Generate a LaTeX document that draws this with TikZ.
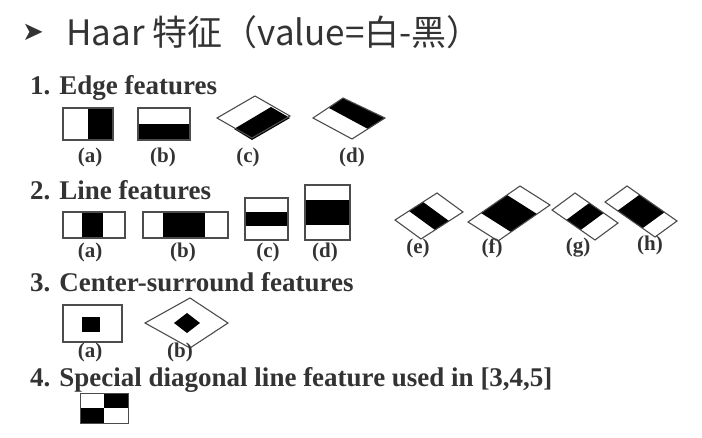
\documentclass[tikz,border=0pt]{standalone}
\usepackage{fontspec}
\setmainfont{Liberation Serif}
\newfontfamily\cjkf{Noto Sans CJK SC}
\newfontfamily\djvf{DejaVu Sans}
\begin{document}
\begin{tikzpicture}[x=1pt,y=-1pt,
  box/.style={draw=black!70,line width=1.1pt},
  blk/.style={fill=black},
  lab/.style={font=\bfseries\fontsize{21}{21}\selectfont,text=black!80,inner sep=0},
  sec/.style={font=\bfseries\fontsize{27}{27}\selectfont,text=black!80,anchor=west,inner sep=0}]
\useasboundingbox (0,0) rectangle (702,438);
\node[anchor=west,text=black!80,inner sep=0] (arr) at (22,32) {\djvf\fontsize{26}{26}\selectfont ➤};
\node[anchor=west,text=black!80,inner sep=0] (title) at (66,32) {\cjkf\fontsize{35}{35}\selectfont Haar 特征（value=白-黑）};
\node[sec] (s1) at (30,88) {1. Edge features};
\node[sec] (s2) at (30,190) {2. Line features};
\node[sec] (s3) at (30,282) {3. Center-surround features};
\node[sec] (s4) at (30,380) {4. Special diagonal line feature used in [3,4,5]};
% edge
\fill[blk] (88,108) rectangle (113,140); \draw[box] (63,108) rectangle (113,140);
\fill[blk] (138,124) rectangle (190,140); \draw[box] (138,108) rectangle (190,140);
\fill[blk] (234,129) -- (271,107) -- (290,118) -- (252,140) -- cycle;
\draw[box] (217,118) -- (255,96) -- (290,116) -- (252,138) -- cycle;
\fill[blk] (329,108) -- (343,98) -- (385,118) -- (368,129) -- cycle;
\draw[box] (313,118) -- (343,98) -- (385,118) -- (352,139) -- cycle;
\node[lab] (ea) at (90,157) {(a)}; \node[lab] (eb) at (163,157) {(b)};
\node[lab] (ec) at (248,157) {(c)}; \node[lab] (ed) at (352,157) {(d)};
% line
\fill[blk] (82,212) rectangle (103,238); \draw[box] (63,212) rectangle (125,238);
\fill[blk] (163,212) rectangle (205,238); \draw[box] (143,212) rectangle (228,238);
\fill[blk] (245,212) rectangle (288,226); \draw[box] (245,198) rectangle (288,240);
\fill[blk] (305,200) rectangle (350,225); \draw[box] (305,185) rectangle (350,240);
\foreach \n/\x/\y/\ux/\uy/\vx/\vy/\a/\b in {e/395/220/42/-27/26/19/0.333/0.667, f/468/222/52/-36/30/19/0.25/0.75, g/552/210/43/30/23/-17/0.333/0.667, h/605/202/50/35/22/-16/0.25/0.75}{
  \fill[blk] ({\x+\a*\ux},{\y+\a*\uy}) -- ({\x+\b*\ux},{\y+\b*\uy}) -- ({\x+\b*\ux+\vx},{\y+\b*\uy+\vy}) -- ({\x+\a*\ux+\vx},{\y+\a*\uy+\vy}) -- cycle;
  \draw[box] (\x,\y) -- ({\x+\ux},{\y+\uy}) -- ({\x+\ux+\vx},{\y+\uy+\vy}) -- ({\x+\vx},{\y+\vy}) -- cycle;
}
\node[lab] (la) at (90,252) {(a)}; \node[lab] (lb) at (183,252) {(b)};
\node[lab] (lc) at (268,252) {(c)}; \node[lab] (ld) at (325,252) {(d)};
\node[lab] (le) at (418,248) {(e)}; \node[lab] (lf) at (492,248) {(f)};
\node[lab] (lg) at (578,248) {(g)}; \node[lab] (lh) at (650,245) {(h)};
% center
\draw[box] (63,305) rectangle (122,342); \fill[blk] (82,317) rectangle (100,332);
\draw[box] (145,323) -- (190,298) -- (228,323) -- (190,348) -- cycle;
\fill[blk] (174,323) -- (187,313) -- (200,323) -- (187,333) -- cycle;
\node[lab] (ca) at (90,352) {(a)}; \node[lab] (cb) at (180,352) {(b)};
% special
\fill[blk] (104,393) rectangle (128,408); \fill[blk] (80,408) rectangle (104,423);
\draw[black!70,line width=0.8pt] (80,393) rectangle (128,423);
\end{tikzpicture}
\end{document}
